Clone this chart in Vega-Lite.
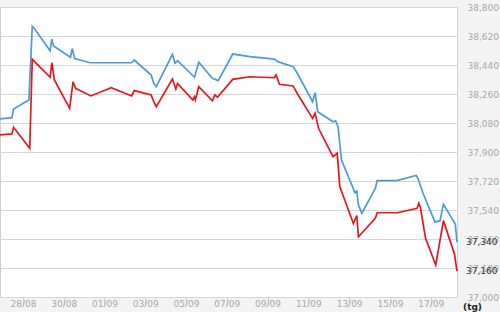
{
  "$schema": "https://vega.github.io/schema/vega-lite/v6.json",
  "width": 457,
  "height": 290,
  "autosize": "none",
  "padding": {"left": 0, "top": 7, "right": 43, "bottom": 15},
  "background": "#f3f3f3",
  "view": {"fill": "white", "stroke": "#cfcfcf"},
  "config": {"font": "DejaVu Sans"},
  "datasets": {
    "gold": [
      {"t": "2013-08-26T21:00", "v": 38105, "s": "ban"},
      {"t": "2013-08-27T11:00", "v": 38113, "s": "ban"},
      {"t": "2013-08-27T13:00", "v": 38167, "s": "ban"},
      {"t": "2013-08-28T07:00", "v": 38223, "s": "ban"},
      {"t": "2013-08-28T11:00", "v": 38680, "s": "ban"},
      {"t": "2013-08-28T13:00", "v": 38670, "s": "ban"},
      {"t": "2013-08-29T08:00", "v": 38529, "s": "ban"},
      {"t": "2013-08-29T10:00", "v": 38600, "s": "ban"},
      {"t": "2013-08-29T12:00", "v": 38558, "s": "ban"},
      {"t": "2013-08-30T08:00", "v": 38488, "s": "ban"},
      {"t": "2013-08-30T10:00", "v": 38542, "s": "ban"},
      {"t": "2013-08-30T13:00", "v": 38480, "s": "ban"},
      {"t": "2013-08-31T07:00", "v": 38454, "s": "ban"},
      {"t": "2013-09-02T08:00", "v": 38454, "s": "ban"},
      {"t": "2013-09-02T11:00", "v": 38471, "s": "ban"},
      {"t": "2013-09-03T07:00", "v": 38378, "s": "ban"},
      {"t": "2013-09-03T10:00", "v": 38326, "s": "ban"},
      {"t": "2013-09-03T13:00", "v": 38305, "s": "ban"},
      {"t": "2013-09-04T08:00", "v": 38506, "s": "ban"},
      {"t": "2013-09-04T11:00", "v": 38451, "s": "ban"},
      {"t": "2013-09-04T14:00", "v": 38467, "s": "ban"},
      {"t": "2013-09-05T10:00", "v": 38364, "s": "ban"},
      {"t": "2013-09-05T15:00", "v": 38457, "s": "ban"},
      {"t": "2013-09-06T07:00", "v": 38357, "s": "ban"},
      {"t": "2013-09-06T14:00", "v": 38343, "s": "ban"},
      {"t": "2013-09-07T07:00", "v": 38508, "s": "ban"},
      {"t": "2013-09-08T03:00", "v": 38492, "s": "ban"},
      {"t": "2013-09-09T08:00", "v": 38477, "s": "ban"},
      {"t": "2013-09-09T12:00", "v": 38461, "s": "ban"},
      {"t": "2013-09-10T06:00", "v": 38430, "s": "ban"},
      {"t": "2013-09-10T10:00", "v": 38398, "s": "ban"},
      {"t": "2013-09-11T05:00", "v": 38212, "s": "ban"},
      {"t": "2013-09-11T08:00", "v": 38268, "s": "ban"},
      {"t": "2013-09-11T11:00", "v": 38150, "s": "ban"},
      {"t": "2013-09-12T05:00", "v": 38088, "s": "ban"},
      {"t": "2013-09-12T08:00", "v": 38094, "s": "ban"},
      {"t": "2013-09-12T11:00", "v": 38057, "s": "ban"},
      {"t": "2013-09-12T15:00", "v": 37850, "s": "ban"},
      {"t": "2013-09-13T07:00", "v": 37646, "s": "ban"},
      {"t": "2013-09-13T09:00", "v": 37658, "s": "ban"},
      {"t": "2013-09-13T11:00", "v": 37571, "s": "ban"},
      {"t": "2013-09-13T15:00", "v": 37520, "s": "ban"},
      {"t": "2013-09-14T07:00", "v": 37675, "s": "ban"},
      {"t": "2013-09-14T09:00", "v": 37722, "s": "ban"},
      {"t": "2013-09-15T08:00", "v": 37722, "s": "ban"},
      {"t": "2013-09-16T07:00", "v": 37754, "s": "ban"},
      {"t": "2013-09-16T09:00", "v": 37737, "s": "ban"},
      {"t": "2013-09-16T15:00", "v": 37644, "s": "ban"},
      {"t": "2013-09-17T05:00", "v": 37466, "s": "ban"},
      {"t": "2013-09-17T11:00", "v": 37472, "s": "ban"},
      {"t": "2013-09-17T15:00", "v": 37576, "s": "ban"},
      {"t": "2013-09-18T05:00", "v": 37453, "s": "ban"},
      {"t": "2013-09-18T07:00", "v": 37340, "s": "ban"},
      {"t": "2013-08-26T21:00", "v": 38006, "s": "mua"},
      {"t": "2013-08-27T11:00", "v": 38012, "s": "mua"},
      {"t": "2013-08-27T13:00", "v": 38053, "s": "mua"},
      {"t": "2013-08-28T08:00", "v": 37923, "s": "mua"},
      {"t": "2013-08-28T11:00", "v": 38475, "s": "mua"},
      {"t": "2013-08-29T08:00", "v": 38364, "s": "mua"},
      {"t": "2013-08-29T10:00", "v": 38454, "s": "mua"},
      {"t": "2013-08-29T13:00", "v": 38347, "s": "mua"},
      {"t": "2013-08-30T07:00", "v": 38171, "s": "mua"},
      {"t": "2013-08-30T11:00", "v": 38336, "s": "mua"},
      {"t": "2013-08-30T14:00", "v": 38295, "s": "mua"},
      {"t": "2013-08-31T08:00", "v": 38248, "s": "mua"},
      {"t": "2013-09-01T08:00", "v": 38299, "s": "mua"},
      {"t": "2013-09-02T08:00", "v": 38248, "s": "mua"},
      {"t": "2013-09-02T11:00", "v": 38281, "s": "mua"},
      {"t": "2013-09-03T07:00", "v": 38254, "s": "mua"},
      {"t": "2013-09-03T10:00", "v": 38212, "s": "mua"},
      {"t": "2013-09-03T13:00", "v": 38181, "s": "mua"},
      {"t": "2013-09-04T08:00", "v": 38353, "s": "mua"},
      {"t": "2013-09-04T12:00", "v": 38291, "s": "mua"},
      {"t": "2013-09-04T14:00", "v": 38326, "s": "mua"},
      {"t": "2013-09-05T08:00", "v": 38223, "s": "mua"},
      {"t": "2013-09-05T10:00", "v": 38243, "s": "mua"},
      {"t": "2013-09-05T11:00", "v": 38223, "s": "mua"},
      {"t": "2013-09-05T15:00", "v": 38305, "s": "mua"},
      {"t": "2013-09-06T07:00", "v": 38218, "s": "mua"},
      {"t": "2013-09-06T10:00", "v": 38254, "s": "mua"},
      {"t": "2013-09-06T13:00", "v": 38240, "s": "mua"},
      {"t": "2013-09-07T07:00", "v": 38351, "s": "mua"},
      {"t": "2013-09-08T03:00", "v": 38367, "s": "mua"},
      {"t": "2013-09-09T08:00", "v": 38361, "s": "mua"},
      {"t": "2013-09-09T10:00", "v": 38378, "s": "mua"},
      {"t": "2013-09-09T14:00", "v": 38320, "s": "mua"},
      {"t": "2013-09-10T06:00", "v": 38310, "s": "mua"},
      {"t": "2013-09-10T12:00", "v": 38254, "s": "mua"},
      {"t": "2013-09-11T05:00", "v": 38109, "s": "mua"},
      {"t": "2013-09-11T08:00", "v": 38140, "s": "mua"},
      {"t": "2013-09-11T12:00", "v": 38047, "s": "mua"},
      {"t": "2013-09-12T05:00", "v": 37871, "s": "mua"},
      {"t": "2013-09-12T10:00", "v": 37892, "s": "mua"},
      {"t": "2013-09-12T13:00", "v": 37685, "s": "mua"},
      {"t": "2013-09-13T05:00", "v": 37456, "s": "mua"},
      {"t": "2013-09-13T09:00", "v": 37506, "s": "mua"},
      {"t": "2013-09-13T11:00", "v": 37374, "s": "mua"},
      {"t": "2013-09-13T14:00", "v": 37391, "s": "mua"},
      {"t": "2013-09-14T07:00", "v": 37490, "s": "mua"},
      {"t": "2013-09-14T09:00", "v": 37523, "s": "mua"},
      {"t": "2013-09-15T09:00", "v": 37523, "s": "mua"},
      {"t": "2013-09-16T08:00", "v": 37551, "s": "mua"},
      {"t": "2013-09-16T10:00", "v": 37582, "s": "mua"},
      {"t": "2013-09-16T12:00", "v": 37554, "s": "mua"},
      {"t": "2013-09-16T18:00", "v": 37364, "s": "mua"},
      {"t": "2013-09-17T06:00", "v": 37199, "s": "mua"},
      {"t": "2013-09-17T15:00", "v": 37474, "s": "mua"},
      {"t": "2013-09-18T04:00", "v": 37267, "s": "mua"},
      {"t": "2013-09-18T07:00", "v": 37160, "s": "mua"}
    ]
  },
  "data": {"name": "gold"},
  "encoding": {
    "x": {
      "field": "t",
      "type": "temporal",
      "scale": {
        "domain": [
          {"year": 2013, "month": 8, "date": 26, "hours": 21},
          {"year": 2013, "month": 9, "date": 18, "hours": 7}
        ]
      },
      "axis": {
        "values": [
          {"year": 2013, "month": 8, "date": 28},
          {"year": 2013, "month": 8, "date": 30},
          {"year": 2013, "month": 9, "date": 1},
          {"year": 2013, "month": 9, "date": 3},
          {"year": 2013, "month": 9, "date": 5},
          {"year": 2013, "month": 9, "date": 7},
          {"year": 2013, "month": 9, "date": 9},
          {"year": 2013, "month": 9, "date": 11},
          {"year": 2013, "month": 9, "date": 13},
          {"year": 2013, "month": 9, "date": 15},
          {"year": 2013, "month": 9, "date": 17}
        ],
        "format": "%d/%m",
        "grid": false,
        "domain": false,
        "tickSize": 8,
        "tickColor": "#d0d0d0",
        "labelPadding": -2,
        "labelBaseline": "middle",
        "labelFontSize": 9,
        "labelColor": "#a8a8a8",
        "title": "(tg)",
        "titleX": 472,
        "titleY": 9,
        "titleAlign": "center",
        "titleBaseline": "middle",
        "titleFontSize": 9,
        "titleFontWeight": "bold",
        "titleColor": "#222"
      }
    },
    "y": {
      "field": "v",
      "type": "quantitative",
      "scale": {"domain": [37000, 38800], "nice": false, "zero": false},
      "axis": {
        "orient": "right",
        "values": [37000, 37180, 37360, 37540, 37720, 37900, 38080, 38260, 38440, 38620, 38800],
        "format": ",d",
        "grid": true,
        "gridColor": "#d6d6d6",
        "domain": false,
        "ticks": false,
        "labelPadding": 10,
        "labelFontSize": 9,
        "labelColor": "#a8a8a8",
        "title": null
      }
    }
  },
  "layer": [
    {
      "mark": {"type": "line", "strokeWidth": 1.7, "clip": false},
      "encoding": {
        "color": {
          "field": "s",
          "type": "nominal",
          "scale": {"domain": ["ban", "mua"], "range": ["#4d9bd0", "#e8151b"]},
          "legend": null
        }
      }
    },
    {
      "transform": [{"filter": {"field": "t", "equal": {"year": 2013, "month": 9, "date": 18, "hours": 7}}}],
      "mark": {"type": "text", "align": "left", "baseline": "middle", "dx": 9, "fontSize": 9, "color": "#333"},
      "encoding": {
        "text": {"field": "v", "type": "quantitative", "format": ",d"}
      }
    }
  ]
}
